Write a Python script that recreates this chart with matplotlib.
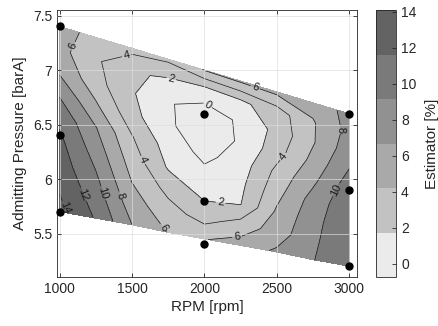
import numpy as np
import matplotlib
matplotlib.use('Agg')
import matplotlib.pyplot as plt
from matplotlib.colors import ListedColormap, Normalize
from matplotlib.cm import ScalarMappable

plt.rcParams['font.family'] = ['Liberation Sans', 'DejaVu Sans']

# grid: columns of RPM, rows are fractions between the
# lower and upper pressure limit of the measured region
rpm = [1000, 1250, 1500, 1750, 2000, 2250, 2500, 2750, 3000]
p_low = [5.70, 5.64, 5.58, 5.51, 5.45, 5.39, 5.33, 5.26, 5.20]
p_high = [7.40, 7.30, 7.20, 7.10, 7.00, 6.90, 6.80, 6.70, 6.60]
frac = [0, 0.125, 0.25, 0.375, 0.5, 0.625, 0.75, 0.875, 1]

# estimator [%], one row per fraction (bottom -> top)
estimator = [
    [14.6, 11.8, 8.0, 5.9, 5.9, 6.9, 8.3, 9.9, 11.9],
    [13.8, 11.0, 6.9, 4.8, 3.2, 4.8, 7.0, 9.6, 11.8],
    [13.1, 10.1, 5.9, 3.4, 1.7, 1.95, 6.3, 9.3, 11.7],
    [12.5, 9.1, 5.0, 1.8, 0.6, 1.5, 5.3, 8.8, 11.5],
    [11.6, 8.1, 4.1, 1.1, -0.5, 0.9, 4.5, 7.6, 11.2],
    [9.9, 6.3, 2.7, 0.2, -0.75, 0.15, 3.2, 6.6, 10.1],
    [7.8, 4.8, 2.2, 0.15, -0.7, 0.2, 2.6, 5.8, 9.2],
    [6.7, 4.3, 2.4, 1.6, 0.9, 1.6, 3.0, 5.8, 8.6],
    [6.6, 5.5, 4.6, 4.4, 6.1, 6.3, 6.5, 6.8, 8.6],
]

# measured operating points
pts_rpm = [1000, 1000, 1000, 2000, 2000, 2000, 3000, 3000, 3000]
pts_p = [7.4, 6.4, 5.7, 6.6, 5.8, 5.4, 6.6, 5.9, 5.2]

line_levels = [0, 2, 4, 6, 8, 10, 12, 14]
fill_levels = [-2, 0, 2, 4, 6, 8, 10, 12, 14, 16]
cbar_ticks = [0, 2, 4, 6, 8, 10, 12, 14]
clim = (-0.74, 14.1)
band_colors = ['#ebebeb', '#c2c2c2', '#a9a9a9', '#919191', '#7a7a7a', '#636363']

xticks = [1000, 1500, 2000, 2500, 3000]
yticks = [5.5, 6, 6.5, 7, 7.5]
ytick_labels = ['5.5', '6', '6.5', '7', '7.5']

# where the contour labels sit in the reference
label_pos = [(1053, 7.24), (1461, 7.14), (1773, 6.93), (2050, 6.73), (2345, 6.82),
             (2926, 6.45), (2529, 6.22), (1588, 6.18), (2892, 5.91), (2107, 5.72),
             (2223, 5.51), (1699, 5.54), (1023, 5.73), (1150, 5.85), (1272, 5.86),
             (1404, 5.84)]

X = np.tile(np.array(rpm, dtype=float), (len(frac), 1))
lo = np.array(p_low)
hi = np.array(p_high)
Y = lo[None, :] + np.array(frac)[:, None] * (hi - lo)[None, :]
Z = np.array(estimator)

cmap = ListedColormap(band_colors)
norm = Normalize(*clim)
# matlab style: each band takes the colour of its lower level
fill_colors = [cmap(norm(max(l, clim[0]))) for l in fill_levels[:-1]]

fig = plt.figure(figsize=(4.39, 3.26), dpi=100)
ax = fig.add_axes([0.130, 0.150, 0.683, 0.819])

ax.contourf(X, Y, Z, levels=fill_levels, colors=fill_colors)
cl = ax.contour(X, Y, Z, levels=line_levels, colors='#1a1a1a', linewidths=0.5)
ax.clabel(cl, fmt='%d', fontsize=8, inline=True, inline_spacing=2,
          manual=label_pos, colors='#1a1a1a')
ax.plot(pts_rpm, pts_p, 'o', color='k', ms=5, zorder=5, clip_on=False)

ax.set_xlim(982, 3054)
ax.set_ylim(5.1, 7.55)
ax.set_xticks(xticks)
ax.set_yticks(yticks)
ax.set_yticklabels(ytick_labels)
ax.set_axisbelow(False)
ax.grid(True, color='#dedede', lw=0.6, alpha=0.8)
ax.tick_params(direction='in', top=True, right=True, length=3, width=0.6,
               labelsize=10, color='#262626', labelcolor='#262626')
for s in ax.spines.values():
    s.set_color('#262626')
    s.set_linewidth(0.6)
ax.set_xlabel('RPM [rpm]', fontsize=11, color='#262626', labelpad=3)
ax.set_ylabel('Admitting Pressure [barA]', fontsize=11, color='#262626', labelpad=4)

cax = fig.add_axes([0.857, 0.150, 0.0456, 0.819])
sm = ScalarMappable(norm=norm, cmap=cmap)
cb = fig.colorbar(sm, cax=cax, ticks=cbar_ticks)
cb.outline.set_edgecolor('#262626')
cb.outline.set_linewidth(0.6)
cb.ax.tick_params(direction='in', length=3, width=0.6, labelsize=10,
                  color='#262626', labelcolor='#262626')
cb.set_label('Estimator [%]', fontsize=11, color='#262626', labelpad=6)

fig.savefig('out.png', dpi=100)
